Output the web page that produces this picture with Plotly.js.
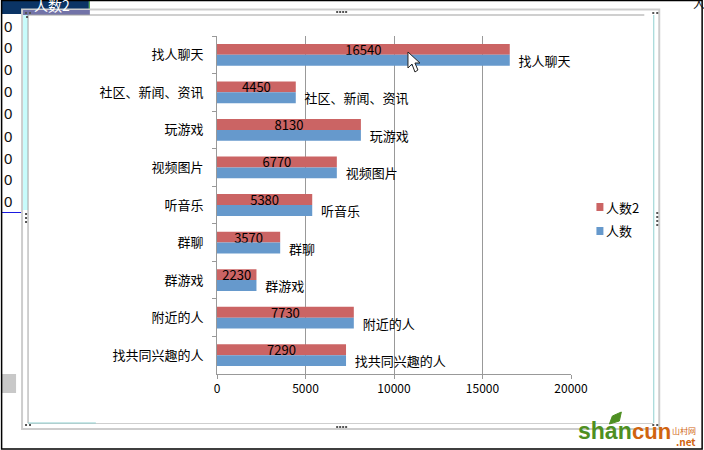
<!DOCTYPE html>
<html><head><meta charset="utf-8">
<script src="https://cdn.plot.ly/plotly-3.0.1.min.js"></script>
<style>html,body{margin:0;padding:0;background:#fff}#c{width:704px;height:450px}</style></head>
<body><div id="c"></div>
<script>
const categories=["找人聊天","社区、新闻、资讯","玩游戏","视频图片","听音乐","群聊","群游戏","附近的人","找共同兴趣的人"];
const seriesNames=["人数2","人数"];
const values2=[16540,4450,8130,6770,5380,3570,2230,7730,7290];
const values1=[16540,4450,8130,6770,5380,3570,2230,7730,7290];
const xTicks=[0,5000,10000,15000,20000];
const stray=[26,48,70,92,114,136,158,180,202];

const L=216.5,R=571.5,T=36,B=374;
const px=x=>(x-L)/(R-L), py=y=>(B-y)/(B-T);
const font="'Noto Sans CJK SC','Noto Sans',sans-serif";
const red='#cb6464',blue='#6699cc';
function rect(x0,y0,x1,y1,fill,line,w){return {type:'rect',xref:'paper',yref:'paper',layer:'below',x0:px(x0),x1:px(x1),y0:py(y0),y1:py(y1),fillcolor:fill||'rgba(0,0,0,0)',line:{color:line||'rgba(0,0,0,0)',width:w||0}};}
function path(pts,fill,line){return {type:'path',xref:'paper',yref:'paper',layer:'above',path:'M'+pts.map(p=>px(p[0])+','+py(p[1])).join('L')+'Z',fillcolor:fill,line:{color:line,width:1}};}
const shapes=[
 rect(0,0,88,14,'#0b3465'),
 rect(88,0,89,14,'#3a9a3a'),
 rect(0,212,22,213,'#1a1ae0'),
 rect(0,374,15,393,'#c8c8c8'),
 rect(21,9.5,660,429,'#fff','#cdcdcd',2),
 rect(22,10,89,15,'#7273a8'),
 rect(22,15,27,210,'#c8fbfb'),
 rect(26.5,15,27.5,423,'#a0a0a0'),
 rect(27,14.5,645,15.5,'#a0a0a0'),
 rect(27,423,654,424,'#cfcfcf'),
 rect(654,15,655,423,'#8fd0d0'),
 rect(27,422.5,95,423.5,'#8fd0d0'),
 rect(0.5,0.5,703,449,'rgba(0,0,0,0)','#000',1.5),
 path([[408,52],[408,68],[412,64],[415,72],[418,70],[415,63],[420,63]],'#fff','#222'),
 rect(597,203,604,211,red),
 rect(597,227,604,235,blue),
 path([[610,424],[613,416],[622,412],[620,421]],'#4e8f22','#4e8f22')
];
// resize-handle dots
[[24,12],[28,12],[653,12],[657,12],[24,424],[28,424],[653,424],[657,424],[25,16],[339,11],[342,11],[345,11],[336,11],[336,426],[339,426],[342,426],[345,426],[24,213],[24,217],[24,221],[657,212],[657,216],[657,220],[657,224]].forEach(p=>shapes.push(rect(p[0],p[1],p[0]+2,p[1]+2,'#555')));

const annotations=stray.map(y=>({xref:'paper',yref:'paper',x:px(6.5),y:py(y),text:'0',showarrow:false,font:{family:'Liberation Sans',size:15,color:'#111'},xanchor:'center',yanchor:'middle'}));
function note(x,y,t,size,color,fam){annotations.push({xref:'paper',yref:'paper',x:px(x),y:py(y),text:t,showarrow:false,font:{family:fam||font,size:size,color:color},xanchor:'left',yanchor:'middle',borderpad:0,borderwidth:0});}
note(33,5,seriesNames[0],14,'#fff');
note(694,4,'人',12,'#111');
note(607,207,seriesNames[0],13,'#000');
note(607,230,seriesNames[1],13,'#000');
note(579,431,'<b>shan</b>',23,'#4e8f22','Liberation Sans');
note(633,431,'<b>cun</b>',22,'#d0640f','Liberation Sans');
note(673,430,'山村网',8,'#d0640f');
note(677,441,'<b>.net</b>',10,'#d0640f');

Plotly.newPlot('c',[
 {type:'bar',orientation:'h',name:seriesNames[0],y:categories,x:values2,marker:{color:red},text:values2.map(String),textposition:'inside',insidetextanchor:'middle',constraintext:'none',textangle:0,textfont:{family:font,size:13,color:'#000'},hoverinfo:'skip'},
 {type:'bar',orientation:'h',name:seriesNames[1],y:categories,x:values1,marker:{color:blue},text:categories.map(c=>'\u00a0\u00a0'+c),textposition:'outside',constraintext:'none',cliponaxis:false,textangle:0,textfont:{family:font,size:13,color:'#000'},hoverinfo:'skip'}
],{
 width:704,height:450,margin:{l:L,r:704-R,t:T,b:450-B,pad:0},
 paper_bgcolor:'#fff',plot_bgcolor:'rgba(0,0,0,0)',showlegend:false,barmode:'group',bargap:0.42,bargroupgap:0,
 font:{family:font,size:13,color:'#000'},
 xaxis:{range:[0,20000],tickvals:xTicks,ticktext:xTicks.map(String),showgrid:true,gridcolor:'#999',gridwidth:1,showline:true,linecolor:'#999',linewidth:1,ticks:'outside',ticklen:4,tickcolor:'#999',zeroline:false,tickfont:{family:font,size:12},fixedrange:true},
 yaxis:{autorange:'reversed',type:'category',showgrid:false,showline:true,linecolor:'#999',linewidth:1,ticks:'outside',tickson:'boundaries',ticklen:4,tickcolor:'#999',tickfont:{family:font,size:13},ticklabelstandoff:10,fixedrange:true},
 shapes:shapes,annotations:annotations
},{displayModeBar:false,staticPlot:true});
</script></body></html>
